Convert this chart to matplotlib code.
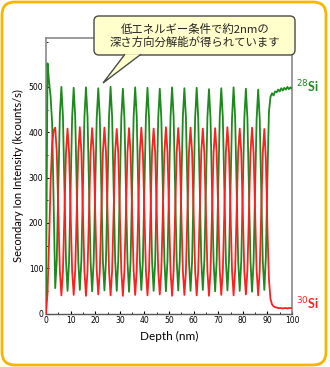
import numpy as np
import matplotlib
matplotlib.use("Agg")
import matplotlib.pyplot as plt
from matplotlib.patches import FancyBboxPatch, Polygon
from matplotlib.transforms import Affine2D
from matplotlib.ticker import MultipleLocator

# SIMS depth profile of a 28Si / 30Si multilayer, sampled every 0.625 nm
step_nm = 0.625

si28 = [
    30, 552, 512, 478, 420, 232, 56, 118, 280, 436,
    500, 436, 276, 117, 50, 115, 274, 433,
    498, 433, 273, 116, 52, 117, 275, 434,
    499, 435, 275, 115, 49, 114, 273, 432,
    497, 432, 274, 117, 51, 116, 276, 435,
    500, 434, 275, 116, 50, 117, 275, 433,
    496, 431, 272, 114, 48, 115, 274, 434,
    499, 435, 276, 118, 52, 116, 275, 433,
    498, 432, 273, 115, 50, 114, 273, 432,
    496, 431, 274, 116, 49, 116, 276, 434,
    499, 434, 275, 117, 51, 117, 274, 433,
    497, 433, 274, 115, 50, 115, 273, 432,
    498, 432, 273, 116, 52, 117, 276, 434,
    495, 430, 272, 115, 49, 116, 275, 433,
    497, 433, 275, 117, 51, 115, 274, 432,
    499, 434, 274, 116, 50, 116, 273, 431,
    496, 431, 273, 115, 48, 114, 272, 430,
    494, 430, 272, 115, 52, 125, 300, 445, 478, 486, 481, 490,
    488, 494, 490, 497, 492, 498, 494, 500, 495, 499, 496,
]

si30 = [
    0, 45, 160, 290, 375, 404,
    410, 357, 226, 95, 40, 93, 224, 355,
    408, 355, 225, 94, 41, 95, 226, 357,
    411, 357, 226, 93, 39, 94, 225, 356,
    409, 356, 224, 95, 42, 93, 224, 355,
    410, 357, 225, 94, 40, 94, 226, 357,
    407, 354, 223, 93, 39, 95, 225, 356,
    409, 356, 226, 95, 41, 94, 224, 355,
    410, 355, 224, 93, 40, 93, 225, 357,
    408, 356, 225, 94, 42, 95, 226, 356,
    411, 357, 224, 93, 39, 94, 225, 355,
    409, 355, 225, 95, 41, 93, 224, 356,
    410, 356, 226, 94, 40, 94, 225, 357,
    408, 354, 224, 93, 39, 95, 226, 355,
    409, 356, 225, 95, 41, 93, 224, 356,
    411, 357, 226, 94, 40, 94, 225, 357,
    408, 355, 224, 93, 42, 95, 226, 356,
    410, 356, 225, 94, 40, 94, 224, 355,
    407, 340, 190, 75, 32, 20, 16, 14, 13, 12,
    12, 12, 11, 12, 12, 11, 12, 12, 12,
]

depth = np.arange(len(si28)) * step_nm

x_ticks = [0, 10, 20, 30, 40, 50, 60, 70, 80, 90, 100]
y_ticks = [0, 100, 200, 300, 400, 500]

callout_text = "低エネルギー条件で約2nmの\n深さ方向分解能が得られています"

W, H = 330, 367
fig = plt.figure(figsize=(W / 100, H / 100), dpi=100)
ax = fig.add_axes([46 / W, 1 - 313.5 / H, 246 / W, 276 / H])

green = "#1c8a1c"
red = "#ff1f1f"
ax.plot(depth, si28, color=green, lw=1.3, zorder=3)
ax.plot(depth, si30, color=red, lw=1.3, zorder=3)

ax.set_xlim(0, 100)
ax.set_ylim(0, 609)
ax.set_xticks(x_ticks)
ax.set_yticks(y_ticks)
ax.xaxis.set_minor_locator(MultipleLocator(5))
ax.yaxis.set_minor_locator(MultipleLocator(50))
ax.tick_params(which="both", direction="in", labelsize=5.5, pad=2)
ax.tick_params(which="major", length=2.5, width=0.8)
ax.tick_params(which="minor", length=1.5, width=0.6)

for side in ["left", "top", "right"]:
    ax.spines[side].set_color("#8a8a8a")
    ax.spines[side].set_linewidth(1.2)
ax.spines["bottom"].set_color("#555555")
ax.spines["bottom"].set_linewidth(1.0)

ax.set_xlabel("Depth (nm)", fontsize=8.5, family="Lato", labelpad=4)
ax.set_ylabel("Secondary Ion Intensity (kcounts/s)", fontsize=8,
              family="Lato", labelpad=3)

ax.text(101.5, 500, r"$^{28}$Si", color=green, fontsize=9, fontweight="bold",
        va="center", ha="left", family="Lato", clip_on=False)
ax.text(101.5, 22, r"$^{30}$Si", color=red, fontsize=9, fontweight="bold",
        va="center", ha="left", family="Lato", clip_on=False)

# pixel coordinates (origin bottom-left) for the frame and the callout
px = Affine2D().scale(1 / 100) + fig.dpi_scale_trans

frame = FancyBboxPatch((2, 2), 324, 363,
                       boxstyle="round,pad=0,rounding_size=13",
                       facecolor="none", edgecolor="#f7b500", lw=2.0,
                       transform=px)
fig.add_artist(frame)

box = FancyBboxPatch((94, H - 55), 201, 39,
                     boxstyle="round,pad=0,rounding_size=5",
                     facecolor="#ffffcc", edgecolor="#4a4a4a", lw=1.0,
                     transform=px, zorder=10)
fig.add_artist(box)
pointer = Polygon([(125, H - 54.2), (103, H - 83), (141, H - 54.2)],
                  closed=False, facecolor="#ffffcc", edgecolor="#4a4a4a",
                  lw=1.0, transform=px, zorder=11)
fig.add_artist(pointer)

fig.text(195 / W, 1 - 35.5 / H, callout_text, ha="center", va="center",
         fontsize=8.2, linespacing=1.2, color="#222222",
         family=["Noto Sans CJK JP", "DejaVu Sans"], zorder=12)

fig.savefig("out.png", dpi=100)
